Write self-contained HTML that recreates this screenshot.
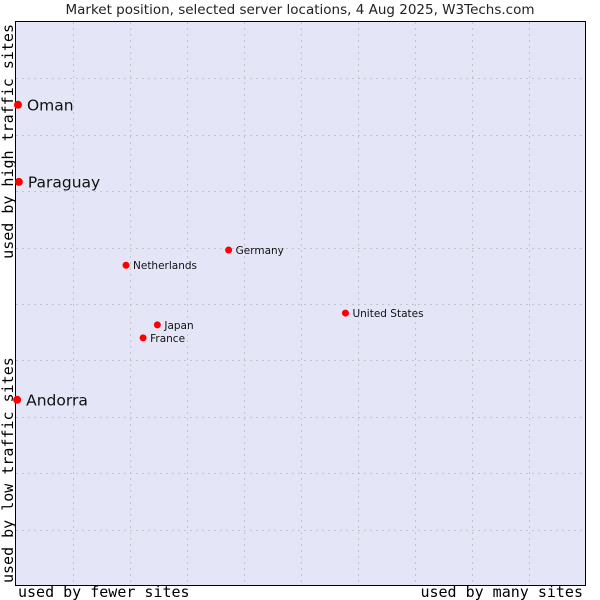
<!DOCTYPE html>
<html><head><meta charset="utf-8"><style>
body{margin:0;background:#fff;}
svg{display:block;}
</style></head><body>
<svg width="600" height="600" xmlns="http://www.w3.org/2000/svg">
<text x="300" y="14" text-anchor="middle" font-family="DejaVu Sans, sans-serif" font-size="13.5" fill="#222">Market position, selected server locations, 4 Aug 2025, W3Techs.com</text>
<rect x="15.5" y="21.5" width="570" height="564" fill="#e4e6f8" stroke="#000" stroke-width="1"/>
<g id="grid"></g>
<g id="marks"></g>
<text x="18" y="597" font-family="DejaVu Sans Mono, monospace" font-size="15" fill="#000">used by fewer sites</text>
<text x="583" y="597" text-anchor="end" font-family="DejaVu Sans Mono, monospace" font-size="15" fill="#000">used by many sites</text>
<text transform="translate(13,24) rotate(-90)" text-anchor="end" font-family="DejaVu Sans Mono, monospace" font-size="15" fill="#000">used by high traffic sites</text>
<text transform="translate(13,583) rotate(-90)" font-family="DejaVu Sans Mono, monospace" font-size="15" fill="#000">used by low traffic sites</text>
</svg>
<script>
const names=["Oman","Paraguay","Andorra","Netherlands","Germany","United States","Japan","France"];
const xVals=[0.35,0.5,0.2,19.3,37.3,57.8,24.8,22.3];
const yVals=[85.3,71.6,32.9,56.8,59.5,48.3,46.2,43.9];
const bigLabel=[true,true,true,false,false,false,false,false];
const NS="http://www.w3.org/2000/svg";
const X0=16,X1=586,Y0=585,Y1=22;
function sx(v){return X0+v/100*(X1-X0);}
function sy(v){return Y0-v/100*(Y0-Y1);}
const grid=document.getElementById('grid');
for(let i=1;i<10;i++){
  const x=Math.round(X0+i*57)+0.5;
  const l=document.createElementNS(NS,'line');
  
  
  l.setAttribute('x1',x);l.setAttribute('x2',x);l.setAttribute('y1',22);l.setAttribute('y2',585);
  l.setAttribute('stroke','#c4c4c8');l.setAttribute('stroke-dasharray','2,4');
  grid.appendChild(l);
  const y=Math.round(Y1+i*56.4)+0.5;
  const h=document.createElementNS(NS,'line');
  
  
  h.setAttribute('x1',16);h.setAttribute('x2',585);h.setAttribute('y1',y);h.setAttribute('y2',y);
  h.setAttribute('stroke','#c4c4c8');h.setAttribute('stroke-dasharray','2,4');
  grid.appendChild(h);
}
const marks=document.getElementById('marks');
names.forEach((n,i)=>{
  const x=sx(xVals[i]),y=sy(yVals[i]);
  const c=document.createElementNS(NS,'circle');
  
  
  c.setAttribute('cx',x);c.setAttribute('cy',y);c.setAttribute('r',bigLabel[i]?4:3.5);c.setAttribute('fill','#f00');
  marks.appendChild(c);
  const t=document.createElementNS(NS,'text');
  
  
  t.setAttribute('x',x+(bigLabel[i]?9:7));t.setAttribute('y',y+(bigLabel[i]?5.5:4));
  t.setAttribute('font-family','DejaVu Sans, sans-serif');
  t.setAttribute('font-size',bigLabel[i]?15.5:10.5);t.setAttribute('fill','#111');
  t.textContent=n;
  marks.appendChild(t);
});
</script>
</body></html>
